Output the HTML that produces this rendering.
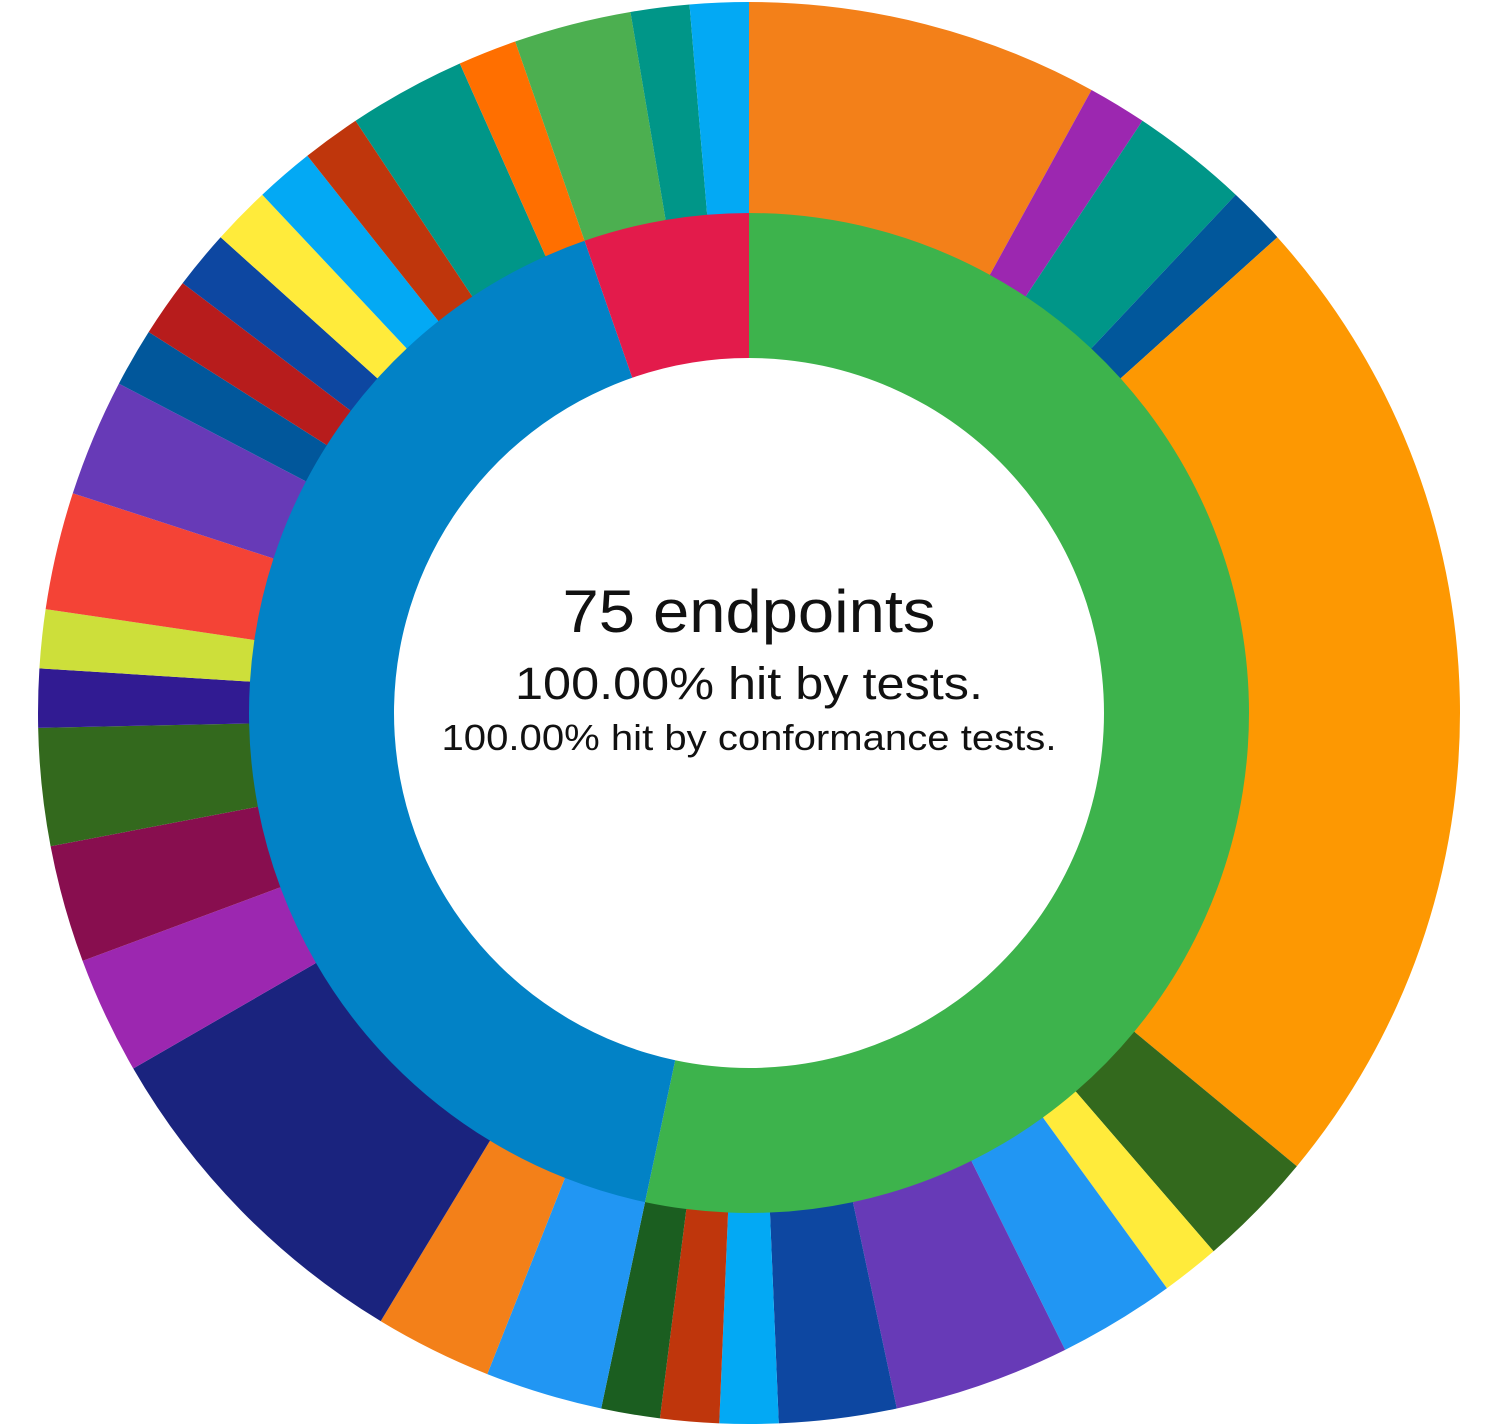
<!DOCTYPE html>
<html><head><meta charset="utf-8"><style>
html,body{margin:0;padding:0;background:#fff;}
svg{display:block;}
text{font-family:"Liberation Sans",sans-serif;fill:#111;}
</style></head><body>
<svg id="chart" width="1496" height="1426" viewBox="0 0 1496 1426">
<g id="inner"></g>
<g id="outer"></g>
<text x="749" y="632" text-anchor="middle" font-size="60" textLength="373" lengthAdjust="spacingAndGlyphs">75 endpoints</text>
<text x="749" y="699" text-anchor="middle" font-size="45" textLength="468" lengthAdjust="spacingAndGlyphs">100.00% hit by tests.</text>
<text x="749" y="750" text-anchor="middle" font-size="36" textLength="615" lengthAdjust="spacingAndGlyphs">100.00% hit by conformance tests.</text>
</svg>
<script>
const innerLabels = ["green-group","blue-group","red-group"];
const innerValues = [40, 31, 4];
const innerColors = ["#3db34c","#0282c6","#e31b4b"];
const outerValues = [6,1,2,1,17,2,1,2,3,2,1,1,1, 2,2,6,2,2,2,1,1,2,2,1,1,1,1,1,1,2,1, 2,1,1];
const outerColors = ["#f38019","#9c27b0","#009688","#01579b","#fd9802","#33691d","#ffeb3b","#2196f3","#673ab7","#0d47a1","#03a9f4","#bf360c","#1b5e20",
"#2196f3","#f38019","#1a237e","#9c27b0","#880e4f","#33691d","#311b92","#cddf3a","#f44336","#673ab7","#01579b","#b71c1c","#0d47a1","#ffeb3b","#03a9f4","#bf360c","#009688","#ff6f00",
"#4caf50","#009688","#03a9f4"];
const total = 75;
const cx=749, cy=713;
function angle(v){ return v/total*2*Math.PI; }
function pt(r,a){ return [cx+r*Math.sin(a), cy-r*Math.cos(a)]; }
function arc(r0,r1,a0,a1){
  const large=(a1-a0)>Math.PI?1:0;
  const p0=pt(r1,a0),p1=pt(r1,a1),p2=pt(r0,a1),p3=pt(r0,a0);
  return `M${p0[0]},${p0[1]}A${r1},${r1} 0 ${large} 1 ${p1[0]},${p1[1]}L${p2[0]},${p2[1]}A${r0},${r0} 0 ${large} 0 ${p3[0]},${p3[1]}Z`;
}
const NS="http://www.w3.org/2000/svg";
function draw(g,values,colors,r0,r1,prefix){
  let acc=0;
  values.forEach((v,i)=>{
    const p=document.createElementNS(NS,"path");
    p.setAttribute("d",arc(r0,r1,angle(acc),angle(acc+v)));
    p.setAttribute("fill",colors[i]);
    
    
    g.appendChild(p);
    acc+=v;
  });
}
draw(document.getElementById("inner"),innerValues,innerColors,355,501,"inner");
draw(document.getElementById("outer"),outerValues,outerColors,500,711,"outer");
</script>
</body></html>
